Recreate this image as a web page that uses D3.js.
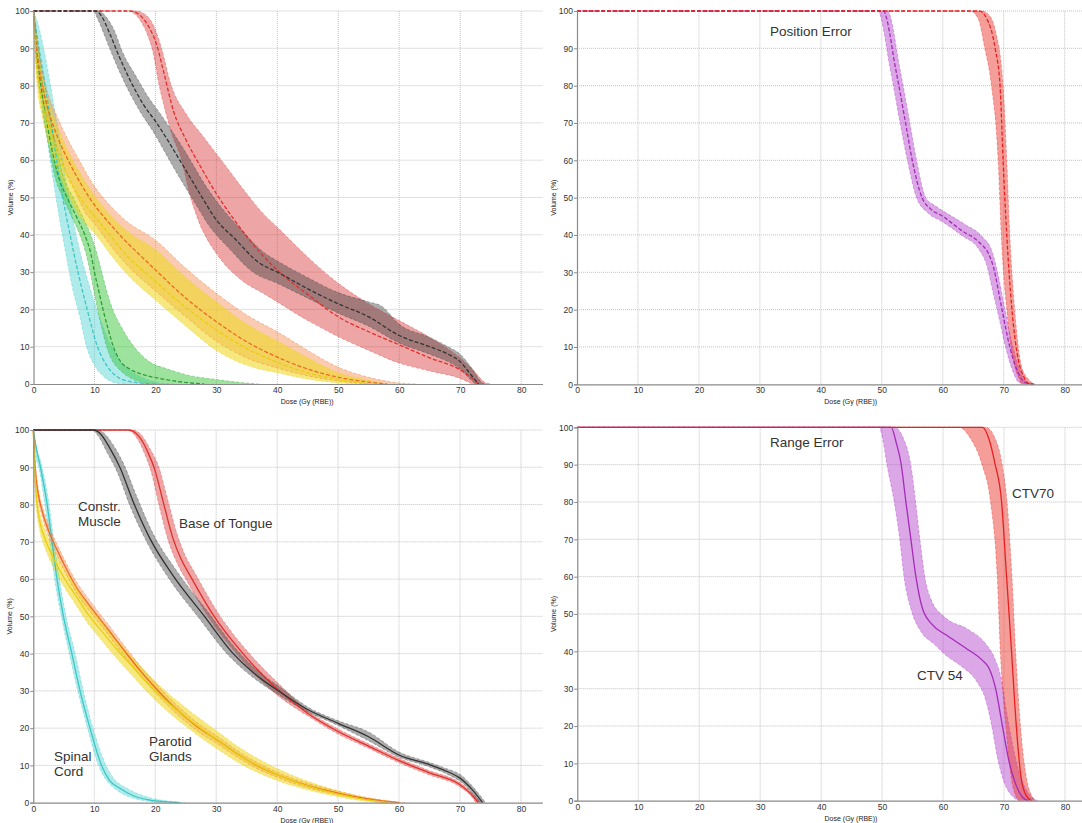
<!DOCTYPE html>
<html>
<head>
<meta charset="utf-8">
<script src="https://cdn.jsdelivr.net/npm/d3@7"></script>
<style>
  body { margin: 0; background: #fff; }
  svg text { font-family: "Liberation Sans", Arial, sans-serif; }
  .note { font-family: "Liberation Sans", Arial, sans-serif; font-size: 13.5px; fill: #333; }
</style>
</head>
<body>
<div id="chart"><svg></svg></div>
<script>
// tick labels
var doseTicks = [0, 10, 20, 30, 40, 50, 60, 70, 80];
var volumeTicks = [0, 10, 20, 30, 40, 50, 60, 70, 80, 90, 100];

// ---- position error, organs at risk (top left) ----  [dose, volume]
var cordPosNom = [[0,100],[0.5,94],[1.2,87],[2,79],[3,69],[3.9,59],[4.8,50],[6,40],[7.3,30],[8.8,20],[10.5,10],[12,5],[13.5,2.2],[16,0.6],[20,0]];
var cordPosLo  = [[0,100],[0.3,92],[0.8,85],[1.5,75],[2.3,65],[3.2,55],[4.2,45],[5.3,35],[6.5,25],[7.6,18],[8.7,10],[10,5],[11.5,2],[13,0.5],[15,0]];
var cordPosHi  = [[0,100],[1,95],[1.9,88],[2.8,80],[3.8,70],[4.8,60],[5.8,50],[7,40],[8.5,30],[10,22],[11.5,15],[13.5,8],[15.5,4],[17.5,2],[20,0.5],[23,0]];

var larynxPosNom = [[0,100],[0.5,90],[1.2,80],[2,72],[3,63],[4.2,55],[5.5,50],[7,45],[8.4,40],[9.4,35],[10,30],[10.7,25],[11.4,20],[12.2,15],[13.1,10],[14.3,6],[15.8,4],[18,2.5],[20.7,1.5],[24,0.6],[28,0]];
var larynxPosLo  = [[0,100],[0.3,90],[0.9,80],[1.6,72],[2.6,63],[3.6,55],[4.8,50],[6.2,45],[7.6,40],[8.6,35],[9.3,30],[9.9,25],[10.5,20],[11.2,15],[12,10],[13,6],[14,4],[15.5,2],[17,0.8],[19,0]];
var larynxPosHi  = [[0,100],[0.8,90],[1.6,80],[2.6,72],[3.8,63],[5,55],[6.5,50],[8,45],[9.4,40],[10.4,35],[11.2,30],[12,25],[13,20],[14.5,15],[16.5,10],[19,6],[22,4],[25,2.5],[30,1.2],[34,0.4],[37,0]];

var parLPosNom = [[0,100],[0.5,90],[1.2,82],[2.5,73],[4,66],[6,59],[8,53],[10,48],[12.5,43],[15,38.5],[17.5,34.5],[20,30.6],[25,23],[30,16.7],[35,11.3],[40,7.2],[45,4],[50,1.8],[55,0.5],[58,0]];
var parLPosLo  = [[0,100],[0.3,91],[0.8,82],[1.8,74],[3.2,66.5],[5,58.5],[7,51],[8.5,46],[10,43],[12.5,37.5],[15,32.5],[20,25],[25,18],[30,11.5],[35,7],[40,4.3],[45,2.2],[50,0.8],[55,0]];
var parLPosHi  = [[0,100],[0.8,90],[2,80],[3.8,72],[5.5,66],[7.5,60],[10,53],[12.5,48],[15,44],[20,38.6],[25,31],[30,24.3],[35,18.5],[40,14],[45,9],[50,4.5],[55,1.8],[60,0.3],[63,0]];

var parRPosNom = [[0,100],[0.3,90],[0.9,80],[2,72],[3.5,64],[5.5,56],[8,49],[10,45],[12.5,40],[15,35],[20,27.5],[25,20.5],[30,14.5],[35,9.5],[40,5.8],[45,3],[50,1.2],[55,0]];
var parRPosLo  = [[0,100],[0.2,90],[0.6,80],[1.4,72],[2.6,64],[4.3,56],[6.5,48],[8.5,43],[10,40.4],[12.5,35],[15,30],[20,22.5],[25,15.5],[30,9],[35,5],[40,3],[45,1.3],[50,0.3],[53,0]];
var parRPosHi  = [[0,100],[0.7,90],[1.8,80],[3.5,71],[5.2,64],[7.3,57.5],[10,50.5],[12.5,45.5],[15,41.5],[20,36],[25,28.5],[30,22],[35,16],[40,11.5],[45,7],[50,3],[55,1],[58,0]];

var musclePosNom = [[0,100],[10.3,100],[11,99],[12.5,94],[14,88],[16.3,80],[18,75],[20.2,70],[24,60],[27.3,51],[30,44],[33,39],[37,32.5],[40,30],[45,25.5],[50,21.5],[55,18],[60,13],[65,10],[68,8],[70,6],[71.5,3],[73,0]];
var musclePosLo  = [[0,100],[9.8,100],[10.5,98],[12,92],[13.5,86],[15.8,78],[17.5,73],[19.5,68],[23,58],[26.5,48.5],[29,42],[32,36.5],[36,30],[40,27],[45,23],[50,19],[55,15.5],[60,11],[65,8],[68,6],[70,4],[71.5,1.5],[72.5,0]];
var musclePosHi  = [[0,100],[10.8,100],[11.6,99],[13.2,95],[14.6,89],[17,82],[18.8,77],[21,72],[25,62],[28.3,53],[31,47],[34,41.5],[38,35],[40,33],[45,28.5],[50,24.5],[55,22],[57,21],[60,16],[65,12.5],[68,10],[70,8],[72,4],[73.5,0.5],[74,0]];

var tonguePosNom = [[0,100],[16,100],[17,99.4],[18,98],[19,95.5],[20.2,91],[21.3,84],[23,73],[25,65.5],[27.5,58],[30,51],[32.5,45],[35,39.5],[40,30.5],[45,24],[50,18],[55,14],[60,10.5],[65,7],[70,3.8],[72,1.5],[73,0]];
var tonguePosLo  = [[0,100],[15.5,100],[16.5,99.3],[17.5,97.5],[18.6,94],[19.6,89],[20.5,81],[21.5,74],[22.6,67.5],[24.3,60],[25.6,51],[27,44],[30,35],[34,28],[38,24],[40,22],[45,17],[50,12.7],[55,9],[60,5.6],[65,3.5],[70,1.5],[72,0]];
var tonguePosHi  = [[0,100],[17,100],[18,99.4],[19,98],[20,95],[21,90],[22.5,80.5],[25,72.5],[28,66],[31.5,58.5],[34.5,52],[37.5,46],[40,42],[45,34],[50,27],[55,21.5],[60,17],[65,12.5],[70,7],[72,4],[74,0.5],[75,0]];

// ---- position error, targets (top right) ----
var ctv54PosNom = [[0,100],[50.3,100],[50.8,98],[51.3,94],[52,87],[52.8,80],[53.9,70],[55,60],[56.6,50],[58,47],[60,45],[63,41.3],[66,38],[67.5,35],[68.3,31.5],[69.6,21],[71,10],[72.4,3],[73.5,0.5],[75,0]];
var ctv54PosLo  = [[0,100],[49.4,100],[49.9,98],[50.4,94],[51.1,87],[51.9,80],[53,70],[54.2,60],[55.7,50],[57.5,46],[60,43.5],[63,40],[66,36],[67.2,32],[68.2,25],[69.2,18],[70.3,10],[71.5,3.5],[72.5,0.5],[74,0]];
var ctv54PosHi  = [[0,100],[51,100],[51.5,98],[52,94],[52.7,87],[53.5,80],[54.6,70],[55.7,60],[57.2,50],[58.6,48],[60.5,46],[63.5,43],[66.5,39.5],[68,36],[69,30],[70.2,20],[71.5,10],[72.8,3],[73.8,0.5],[75,0]];

var ctv70PosNom = [[0,100],[66,100],[67.2,98],[68.6,90],[69.4,80],[69.9,60],[70.5,40],[71.3,21],[72.4,6.5],[73.3,2],[74,0.3],[75,0]];
var ctv70PosLo  = [[0,100],[64.5,100],[65.8,98],[66.9,90],[68,80],[69.1,60],[69.6,40],[70.5,20],[71.8,5],[72.5,1.5],[73,0]];
var ctv70PosHi  = [[0,100],[66.5,100],[67.8,98.5],[68.6,95],[69.9,80],[70.5,60],[71,40],[71.8,20],[72.9,5],[74,1.5],[75.1,0]];

// ---- range error, organs at risk (bottom left) ----
var cordRngNom = [[0,100],[0.5,95],[1.1,90.6],[2.2,80.8],[3,71],[3.8,61],[4.9,50.4],[6.3,40.2],[7.7,29.8],[9.3,20],[11.2,10],[12.5,6],[14.2,3.9],[16.5,1.8],[19.1,0.7],[22,0.2],[24,0]];
var cordRngLo  = [[0,100],[0.4,93],[0.9,90],[1.9,80],[2.7,70],[3.5,60],[4.6,50],[5.9,40],[7.3,30],[8.9,20],[10.7,10],[12,6],[13.6,3.5],[15.8,1.5],[18.3,0.5],[21,0]];
var cordRngHi  = [[0,100],[0.6,95],[1.3,91],[2.5,81],[3.3,71],[4.2,61],[5.3,50.5],[6.8,40.5],[8.2,30],[9.8,20],[11.8,10.5],[13.2,6.5],[15,4.2],[17.5,2.2],[20.2,0.9],[23,0.3],[25,0]];

var parLRngNom = [[0,100],[0.3,90],[0.8,83],[1.5,78],[2.5,73],[4,67.5],[5.5,62.5],[7,58],[8.7,54],[10.4,50.4],[12.5,46],[15.3,40],[17.5,35.5],[20.2,30.5],[23,25.8],[26.8,20.5],[30,17],[33,13.6],[36.1,10.5],[40,7.5],[45,4.6],[50,2.6],[55,1],[60,0]];
var parLRngLo  = [[0,100],[0.3,88],[0.8,81.5],[1.5,76.5],[2.5,71.5],[4,66],[5.5,61],[7,56.5],[8.7,52.5],[10.4,49],[12.5,44.6],[15.3,38.6],[17.5,34.2],[20.2,29.2],[23,24.6],[26.8,19.4],[30,16],[33,12.7],[36.1,9.7],[40,6.8],[45,4],[50,2.1],[55,0.7],[58,0]];
var parLRngHi  = [[0,100],[0.3,92],[0.8,84.5],[1.5,79.5],[2.5,74.5],[4,69],[5.5,64],[7,59.5],[8.7,55.5],[10.4,51.8],[12.5,47.4],[15.3,41.4],[17.5,36.8],[20.2,31.8],[23,27],[26.8,21.6],[30,18],[33,14.5],[36.1,11.3],[40,8.2],[45,5.2],[50,3.1],[55,1.3],[61,0]];

var parRRngNom = [[0,100],[0.2,90],[0.5,82],[1,76],[2,70.5],[3.5,65],[5,60.5],[7,55.5],[9,50.5],[11,46.5],[13.5,41.5],[16,37],[18.5,32.5],[21,28.5],[25,23],[30,17],[34,12.5],[38,9],[42,6.2],[46,4],[50,2.3],[55,0.7],[58,0]];
var parRRngLo  = [[0,100],[0.2,87],[0.5,79],[1,73.5],[2,68],[3.5,62.5],[5,58],[7,53],[9,48],[11,44],[13.5,39],[16,34.5],[18.5,30],[21,26],[25,20.5],[30,14.6],[34,10.4],[38,7.2],[42,4.8],[46,3],[50,1.6],[55,0.3],[57,0]];
var parRRngHi  = [[0,100],[0.2,92],[0.5,85],[1,78.5],[2,73],[3.5,67.5],[5,63],[7,58],[9,53],[11,49],[13.5,44],[16,39.5],[18.5,35],[21,31],[25,25.5],[30,19.4],[34,14.6],[38,10.8],[42,7.7],[46,5.2],[50,3.2],[55,1.2],[60,0]];

var muscleRngNom = [[0,100],[10,100],[11,99],[12.6,95],[14.2,90],[16.4,80.7],[19.1,71],[22.9,61],[27.9,50.4],[32.8,40],[36,35],[40.4,29.8],[45,25],[50,21.3],[55,17.7],[60,12.8],[65,10.2],[68,8.3],[70,6.6],[72,3.5],[73.7,0]];
var muscleRngLo  = [[0,100],[9.6,100],[10.6,98.5],[12.1,94],[13.7,89],[15.9,79.5],[18.6,70],[22.3,60],[27.2,49.5],[32.2,39.2],[35.5,34.3],[40,29.2],[45,24.4],[50,20.7],[55,16.6],[60,12.2],[65,9.6],[68,7.6],[70,5.8],[72,2.6],[73.2,0]];
var muscleRngHi  = [[0,100],[10.4,100],[11.4,99.4],[13.1,96],[14.8,91],[17,82],[19.7,72],[23.6,62],[28.6,51.3],[33.5,40.8],[36.6,35.7],[41,30.4],[45,25.7],[50,22],[55,19],[60,13.6],[65,10.8],[68,9],[70,7.6],[72,4.5],[74.2,0]];

var tongueRngNom = [[0,100],[15.8,100],[16.8,99.2],[17.8,97.2],[18.8,94],[19.9,89.5],[21.3,80.8],[22.9,71],[24.2,65.5],[25.7,61],[29.5,50.4],[34.4,40],[39.9,30.7],[45,24],[50,19.1],[55,15.2],[60,11.3],[65,8],[70,4.8],[72,2],[73,0]];
var tongueRngLo  = [[0,100],[15.3,100],[16.3,99.2],[17.3,97],[18.3,93.5],[19.3,89],[20.6,80],[22.2,70],[23.5,64.6],[25,60],[28.8,49.6],[33.7,39.3],[39.2,30],[45,23.3],[50,18.4],[55,14.6],[60,10.7],[65,7.4],[70,4.2],[72,1.4],[72.6,0]];
var tongueRngHi  = [[0,100],[16.3,100],[17.3,99.3],[18.3,97.4],[19.3,94.5],[20.5,90.5],[22,81.6],[23.6,72],[24.9,66.4],[26.4,62],[30.2,51.2],[35.1,40.7],[40.6,31.4],[45,24.7],[50,19.8],[55,15.8],[60,11.9],[65,8.6],[70,5.4],[72,2.6],[73.5,0]];

// ---- range error, targets (bottom right) ----
var ctv54RngNom = [[0,100],[51.5,100],[52.3,96],[53.1,90.4],[53.9,80.1],[54.7,70.3],[55.5,60.5],[56.6,51.6],[58.2,47.2],[60.4,44.5],[63.7,40.9],[66.5,37.5],[67.5,35.6],[68.6,30.2],[69.7,20.4],[70.8,10.7],[71.9,4.5],[73,1],[74,0]];
var ctv54RngLo  = [[0,100],[49.5,100],[50.2,96],[50.8,90],[52,80],[52.9,70],[53.6,60],[54.8,51],[56.5,45],[58.5,42],[60.4,39],[63,36],[65.5,32],[67,27],[68,20],[69,11],[70,5],[71.2,1.5],[72.5,0]];
var ctv54RngHi  = [[0,100],[52,100],[53.5,97],[54.7,90],[55.5,80],[56.2,70],[57,60],[58,54],[60.4,49],[64,46],[67,42],[68.5,38],[69.5,33],[70.6,22],[71.8,12],[72.8,6],[74,2],[75.5,0]];

var ctv70RngNom = [[0,100],[66.5,100],[67.5,97],[68.5,90.4],[69.6,80.1],[70.4,60.5],[71.2,40.9],[72,20.4],[72.8,6.2],[73.6,1.5],[74.5,0]];
var ctv70RngLo  = [[0,100],[62.6,100],[64.5,97],[66.4,90],[67.8,80],[68.9,60],[69.4,40],[70.3,20],[71.3,5],[72,1],[72.4,0]];
var ctv70RngHi  = [[0,100],[67,100],[68.8,96],[69.7,90],[70.5,80],[71.3,60],[71.9,40],[72.7,20],[73.8,5],[74.5,1.5],[75.1,0]];

// colours per structure
var colors = {
  cord:   { line: '#3cc6c6', band: 'rgba(80,210,210,0.45)' },
  larynx: { line: '#2f9e3a', band: 'rgba(60,200,60,0.5)' },
  parL:   { line: '#ee6a1e', band: 'rgba(245,140,80,0.45)' },
  parR:   { line: '#e6cf10', band: 'rgba(240,215,40,0.6)' },
  muscle: { line: '#333333', band: 'rgba(70,70,70,0.45)' },
  tongue: { line: '#e0302c', band: 'rgba(215,40,40,0.42)' },
  ctv54:  { line: '#a42cb8', band: 'rgba(175,60,200,0.45)' },
  ctv70:  { line: '#e42222', band: 'rgba(235,60,50,0.5)' }
};

var panels = [
  { left: 33.5, top: 11, bottom: 384, dashed: true,
    series: [['cord', cordPosNom, cordPosLo, cordPosHi], ['larynx', larynxPosNom, larynxPosLo, larynxPosHi],
             ['parL', parLPosNom, parLPosLo, parLPosHi], ['parR', parRPosNom, parRPosLo, parRPosHi],
             ['tongue', tonguePosNom, tonguePosLo, tonguePosHi], ['muscle', musclePosNom, musclePosLo, musclePosHi]],
    notes: [] },
  { left: 577, top: 11, bottom: 384.3, dashed: true,
    series: [['ctv54', ctv54PosNom, ctv54PosLo, ctv54PosHi], ['ctv70', ctv70PosNom, ctv70PosLo, ctv70PosHi]],
    notes: [[['Position Error'], 770, 36]] },
  { left: 33.3, top: 430, bottom: 802.7, dashed: false,
    series: [['cord', cordRngNom, cordRngLo, cordRngHi], ['parL', parLRngNom, parLRngLo, parLRngHi],
             ['parR', parRRngNom, parRRngLo, parRRngHi], ['tongue', tongueRngNom, tongueRngLo, tongueRngHi],
             ['muscle', muscleRngNom, muscleRngLo, muscleRngHi]],
    notes: [[['Constr.', 'Muscle'], 78, 510.5], [['Base of Tongue'], 179, 528], [['Spinal', 'Cord'], 54, 760.5],
            [['Parotid', 'Glands'], 149, 745.5]] },
  { left: 577.3, top: 427.3, bottom: 800.7, dashed: false,
    series: [['ctv54', ctv54RngNom, ctv54RngLo, ctv54RngHi], ['ctv70', ctv70RngNom, ctv70RngLo, ctv70RngHi]],
    notes: [[['Range Error'], 770, 447], [['CTV70'], 1012, 498], [['CTV 54'], 917, 680]] }
];

var svg = d3.select('#chart').select('svg').attr('width', 1082).attr('height', 823);

function drawPanel(p) {
  var x = d3.scaleLinear().domain([0, 83.5]).range([p.left, p.left + 509]);
  var y = d3.scaleLinear().domain([0, 100]).range([p.bottom, p.top]);
  var g = svg.append('g');

  // dotted grid
  g.selectAll('.vg').data(doseTicks.slice(1)).enter().append('line')
    .attr('x1', function(d) { return x(d); }).attr('x2', function(d) { return x(d); })
    .attr('y1', y(0)).attr('y2', y(100))
    .attr('stroke', '#b4b4b4').attr('stroke-width', 0.8).attr('stroke-dasharray', '1,1');
  g.selectAll('.hg').data(volumeTicks.slice(1)).enter().append('line')
    .attr('x1', x(0)).attr('x2', x(83.5))
    .attr('y1', function(d) { return y(d); }).attr('y2', function(d) { return y(d); })
    .attr('stroke', '#b4b4b4').attr('stroke-width', 0.8).attr('stroke-dasharray', '1,1');

  var line = d3.line()
    .x(function(d) { return x(d[0]); })
    .y(function(d) { return y(d[1]); })
    .curve(d3.curveMonotoneX);

  // bands first, then the edge and nominal lines on top
  p.series.forEach(function(s) {
    var c = colors[s[0]];
    var back = line(s[2].slice().reverse());
    g.append('path')
      .attr('d', line(s[3]) + 'L' + back.slice(1) + 'Z')
      .attr('fill', c.band).attr('stroke', 'none');
  });
  p.series.forEach(function(s) {
    var c = colors[s[0]];
    [s[2], s[3]].forEach(function(edge) {
      g.append('path').attr('d', line(edge))
        .attr('fill', 'none').attr('stroke', c.line).attr('stroke-opacity', 0.45)
        .attr('stroke-width', 0.8).attr('stroke-dasharray', '3,2');
    });
    g.append('path').attr('d', line(s[1]))
      .attr('fill', 'none').attr('stroke', c.line)
      .attr('stroke-width', 1.3)
      .attr('stroke-dasharray', p.dashed ? '4,2' : null);
  });

  // axes
  var ax = g.append('g').attr('transform', 'translate(0,' + y(0) + ')')
    .call(d3.axisBottom(x).tickValues(doseTicks).tickSize(0).tickPadding(3));
  var ay = g.append('g').attr('transform', 'translate(' + x(0) + ',0)')
    .call(d3.axisLeft(y).tickValues(volumeTicks).tickSize(3).tickPadding(1));
  [ax, ay].forEach(function(a) {
    a.select('.domain').attr('stroke', '#8a8a8a').attr('stroke-width', 1.2);
    a.selectAll('.tick line').attr('stroke', '#8a8a8a');
    a.selectAll('text').attr('font-size', '8.5px').attr('fill', '#333')
      .style('font-family', '"Liberation Sans", Arial, sans-serif');
  });

  g.append('text')
    .attr('x', x(44.9)).attr('y', y(0) + 20)
    .attr('text-anchor', 'middle').attr('font-size', '7px').attr('fill', '#222')
    .text('Dose (Gy (RBE))');
  g.append('text')
    .attr('transform', 'translate(' + (p.left - 21) + ',' + y(50) + ') rotate(-90)')
    .attr('text-anchor', 'middle').attr('font-size', '7px').attr('fill', '#222')
    .text('Volume (%)');

  // structure labels, one text per label with a line per tspan
  var notes = g.selectAll('.note').data(p.notes).enter().append('text')
    .attr('class', 'note')
    .attr('x', function(d) { return d[1]; }).attr('y', function(d) { return d[2]; });
  notes.selectAll('tspan').data(function(d) { return d[0].map(function(t) { return [t, d[1]]; }); })
    .enter().append('tspan')
    .attr('x', function(t) { return t[1]; })
    .attr('dy', function(t, i) { return i ? 15.2 : 0; })
    .text(function(t) { return t[0]; });
}

panels.forEach(drawPanel);
</script>
</body>
</html>
